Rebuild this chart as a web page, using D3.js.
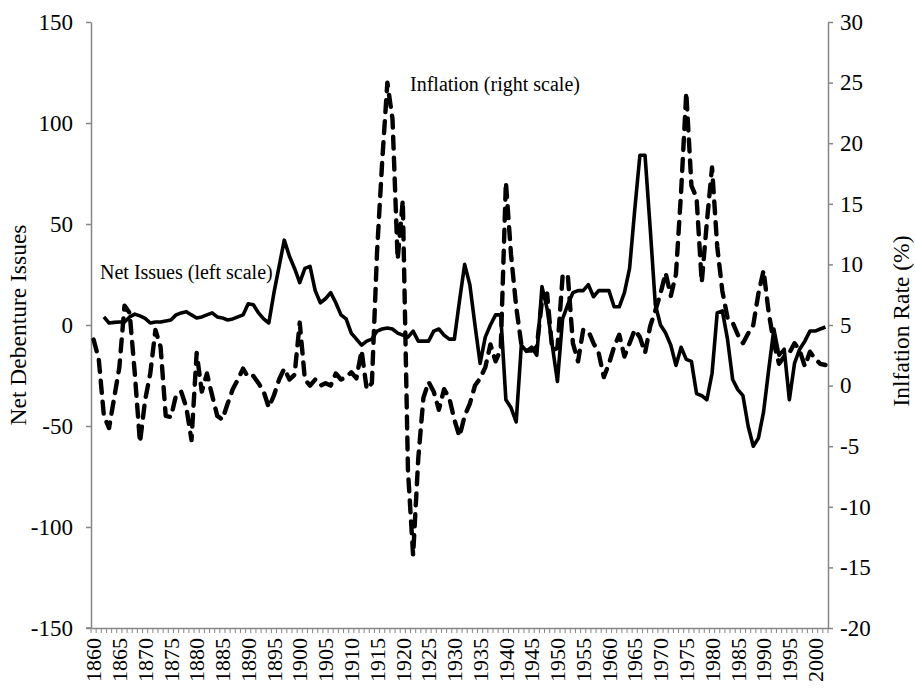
<!DOCTYPE html>
<html><head><meta charset="utf-8">
<script src="https://cdn.jsdelivr.net/npm/d3@7"></script>
<style>body{margin:0;background:#fff} svg{display:block}</style>
</head><body>
<svg id="chart" width="915" height="689"></svg>
<script>
// ---- data ----
const firstYear = 1860, lastYear = 2002;
const years = d3.range(firstYear, lastYear + 1);
const netIssues = [
 null,null,4,1,1.3,1.5,1.5,4,5.4,4.5,            // 1860-1869
 3.3,1,1.5,1.5,2,2.5,5,6,6.6,5,                  // 1870-1879
 3.5,4,5,6,4,3.5,2.5,3,4,5,                      // 1880-1889
 10.5,10,6,3,1,16,29,42,34,28,                   // 1890-1899
 21,28,29,17,11,13,16,11,5,3,                    // 1900-1909
 -4,-7,-10,-8,-7,-3,-2,-1.5,-2,-4,               // 1910-1919
 -5,-6,-3,-8,-8,-8,-3,-2,-5,-7,                  // 1920-1929
 -7,12,30,20,0,-19,-6,0,5,5,                     // 1930-1939
 -37,-41,-48,-10,-13,-11,-15,19,8,-10,           // 1940-1949
 -28,3,10,16,17,17,20,14,17,17,                  // 1950-1959
 17,9,9,16,28,57,84,84,48,10,                    // 1960-1969
 0,-4,-10,-20,-11,-17,-18,-34,-35,-37,           // 1970-1979
 -24,6,7,-7,-27,-32,-35,-50,-60,-56,             // 1980-1989
 -43,-22,-2,-15,-12,-37,-19,-12,-8,-3,           // 1990-1999
 -3,-2,-1                                        // 2000-2002
];
const inflation = [
 3.8,2.2,-2.5,-3.5,-1.0,1.5,6.6,6.0,1.0,-4.7,    // 1860-1869
 -1.2,1.0,4.6,3.2,-2.5,-2.6,-0.8,-0.5,-1.8,-4.5, // 1870-1879
 2.7,-0.5,1.0,-0.8,-2.5,-2.8,-1.5,-0.3,0.5,1.4,  // 1880-1889
 0.7,0.8,0.2,-0.5,-1.8,-0.8,0.5,1.4,0.5,0.9,     // 1890-1899
 5.2,0.5,0,0.5,0,0.2,0,1.0,0.5,0.7,              // 1900-1909
 1.1,0.6,2.9,-0.3,0.2,11,18.5,25,22,10.4,        // 1910-1919
 15.3,-7,-14,-6,-1,0.3,-0.5,-2,-0.3,-1,          // 1920-1929
 -2.8,-4.2,-2.5,-1.5,0,0.6,1.5,3.4,2.0,3.0,      // 1930-1939
 16.8,10.8,6.5,3.4,2.9,2.9,3.2,7.0,7.6,2.9,      // 1940-1949
 3.1,9.0,9.2,3.5,2.0,4.6,4.5,3.5,2.7,0.7,        // 1950-1959
 1.8,3.2,4.2,2.4,3.5,4.6,4.0,2.7,4.9,6.2,        // 1960-1969
 7.6,9.3,7.4,9.2,16,24.2,16.5,15.5,8.5,13.5,     // 1970-1979
 18,11.5,7.8,5.6,5.2,4.2,3.5,4.3,5.0,7.6,        // 1980-1989
 9.5,6.0,3.5,1.8,2.4,2.7,3.5,2.9,1.6,2.8,        // 1990-1999
 2.2,1.8,1.7                                     // 2000-2002
];
const leftTicks = [150,100,50,0,-50,-100,-150];
const rightTicks = [30,25,20,15,10,5,0,-5,-10,-15,-20];
const xLabelYears = [1860,1865,1870,1875,1880,1885,1890,1895,1900,1905,1910,1915,1920,1925,1930,1935,1940,1945,1950,1955,1960,1965,1970,1975,1980,1985,1990,1995,2000];
const leftTitle = "Net Debenture Issues";
const rightTitle = "Inlfation Rate (%)";
const netLabel = "Net Issues (left scale)";
const inflLabel = "Inflation (right scale)";

// ---- layout ----
const L = 91, R = 828, T = 22, B = 628;
const axisColor = "#868686";
const font = "'Liberation Serif','Times New Roman',serif";
const fmt = d => String(d);   // plain hyphen minus, as in the original

const svg = d3.select("#chart");
const x = d3.scaleBand().domain(years).range([L, R]).padding(0);
const yL = d3.scaleLinear().domain([-150, 150]).range([B, T]);
const yR = d3.scaleLinear().domain([-20, 30]).range([B, T]);
const cx = yr => x(yr) + x.bandwidth() / 2;

function styleAxis(g, size) {
  g.selectAll("path.domain").attr("stroke", axisColor).attr("stroke-width", 1.5);
  g.selectAll(".tick line").attr("stroke", axisColor).attr("stroke-width", 1.5);
  g.selectAll("text").attr("fill", "#000").style("font-family", font).style("font-size", size + "px");
}

// left axis
const gL = svg.append("g").attr("transform", `translate(${L},0)`)
  .call(d3.axisLeft(yL).tickValues(leftTicks).tickSize(5).tickSizeOuter(0).tickPadding(13).tickFormat(fmt));
styleAxis(gL, 23);

// right axis
const gR = svg.append("g").attr("transform", `translate(${R},0)`)
  .call(d3.axisRight(yR).tickValues(rightTicks).tickSize(5).tickSizeOuter(0).tickPadding(7).tickFormat(fmt));
styleAxis(gR, 23);

// bottom axis (labels at category centres)
const gB = svg.append("g").attr("transform", `translate(0,${B})`)
  .call(d3.axisBottom(x).tickValues(xLabelYears).tickSize(0).tickSizeOuter(0));
gB.selectAll("path.domain").attr("stroke", axisColor).attr("stroke-width", 1.5);
gB.selectAll(".tick text")
  .attr("transform", "rotate(-90)")
  .attr("x", -10).attr("y", 0).attr("dy", "0.35em")
  .attr("text-anchor", "end")
  .attr("fill", "#000").style("font-family", font).style("font-size", "22px");
// tick marks between categories
svg.append("g").selectAll("line").data(years.concat([lastYear + 1]))
  .join("line")
  .attr("x1", d => d <= lastYear ? x(d) : R).attr("x2", d => d <= lastYear ? x(d) : R)
  .attr("y1", B).attr("y2", B + 5)
  .attr("stroke", axisColor).attr("stroke-width", 1);
svg.append("line").attr("x1", L - 5).attr("x2", L).attr("y1", B).attr("y2", B)
  .attr("stroke", axisColor).attr("stroke-width", 1.5);

// lines
const netLine = d3.line().defined(d => d.v !== null).x(d => cx(d.yr)).y(d => yL(d.v));
const inflLine = d3.line().x(d => cx(d.yr)).y(d => yR(d.v));
svg.append("path").datum(years.map((yr, i) => ({yr, v: inflation[i]})))
  .attr("d", inflLine).attr("fill", "none").attr("stroke", "#000")
  .attr("stroke-width", 4.4).attr("stroke-dasharray", "12,9").attr("stroke-linecap", "round").attr("stroke-linejoin", "round");
svg.append("path").datum(years.map((yr, i) => ({yr, v: netIssues[i]})))
  .attr("d", netLine).attr("fill", "none").attr("stroke", "#000")
  .attr("stroke-width", 3.6).attr("stroke-linejoin", "round");

// annotations
svg.append("text").attr("x", 100).attr("y", 279).text(netLabel)
  .style("font-family", font).style("font-size", "20px");
svg.append("text").attr("x", 410).attr("y", 91).text(inflLabel)
  .style("font-family", font).style("font-size", "20px");

// axis titles
svg.append("text").attr("transform", `translate(26,${(T + B) / 2}) rotate(-90)`)
  .attr("text-anchor", "middle").text(leftTitle)
  .style("font-family", font).style("font-size", "23.5px");
svg.append("text").attr("transform", `translate(909,${(T + B) / 2 - 4}) rotate(-90)`)
  .attr("text-anchor", "middle").text(rightTitle)
  .style("font-family", font).style("font-size", "23.5px");
</script>
</body></html>
